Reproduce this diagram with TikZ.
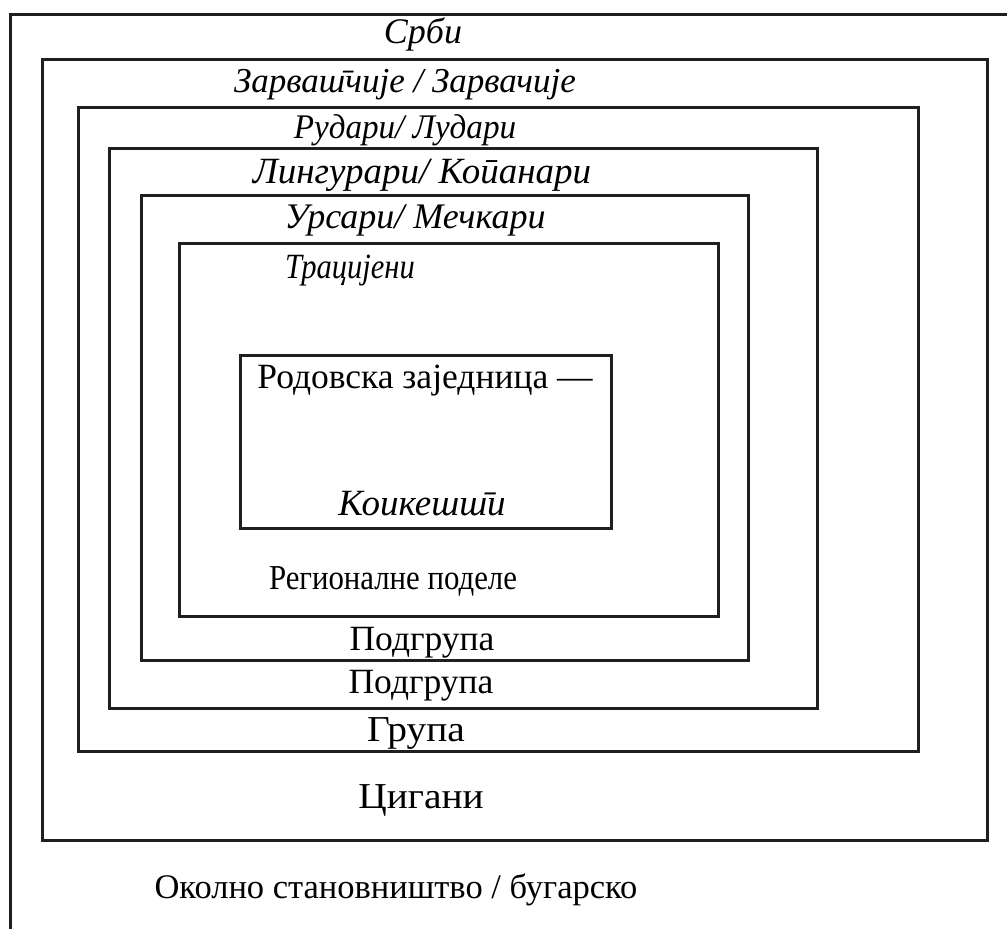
\documentclass[tikz,border=0pt]{standalone}
\usepackage{fontspec}
\usepackage{graphicx}
\setmainfont{Liberation Serif}
\begin{document}
\begin{tikzpicture}[x=1pt,y=-1pt,
  frame/.style={line width=3pt, draw=black!88},
  lbl/.style={anchor=base, inner sep=0pt, font=\fontsize{#1}{#1}\selectfont},
  lbl/.default=35,
  ilbl/.style={anchor=base, inner sep=0pt, font=\fontsize{#1}{#1}\selectfont\itshape},
  ilbl/.default=35]
\useasboundingbox (0,0) rectangle (1007,929);
% outer partial frame
\coordinate (otr) at (1007,14);
\coordinate (otl) at (10,14);
\coordinate (obl) at (10,929);
\draw[frame] (otr) -- (otl) -- (obl);
% nested boxes
\draw[frame] (42,59) rectangle (987,840);
\draw[frame] (78,107) rectangle (918,751);
\draw[frame] (109,148) rectangle (817,708);
\draw[frame] (141,195) rectangle (748,660);
\draw[frame] (179,243) rectangle (718,616);
\draw[frame] (240,355) rectangle (611,528);
% labels
\node[ilbl=36] (srbi) at (423,43) {Срби};
\node[ilbl=35] (zarv) at (405,92) {Зарваш̄чије / Зарвачије};
\node[ilbl=34.5] (rud) at (405,138) {\scalebox{0.96}[1]{Рудари/ Лудари}};
\node[ilbl=37] (ling) at (422,183) {Лингурари/ Коӣанари};
\node[ilbl=36] (urs) at (415,228) {Урсари/ Мечкари};
\node[ilbl=35.5] (trac) at (350,278) {\scalebox{0.86}[1]{Трацијени}};
\node[lbl=35.5] (rod) at (425,388) {Родовска заједница —};
\node[ilbl=37] (koik) at (422,515) {Коикешш̄и};
\node[lbl=35] (reg) at (393,589) {\scalebox{0.88}[1]{Регионалне поделе}};
\node[lbl=35.5] (pg1) at (422,650) {Подгрупа};
\node[lbl=35.5] (pg2) at (421,693) {Подгрупа};
\node[lbl=36.5] (gr) at (416,741) {\scalebox{1.08}[1]{Група}};
\node[lbl=36.5] (cig) at (421,808) {\scalebox{1.08}[1]{Цигани}};
\node[lbl=34.5] (okol) at (396,898) {Околно становништво / бугарско};
\end{tikzpicture}
\end{document}
